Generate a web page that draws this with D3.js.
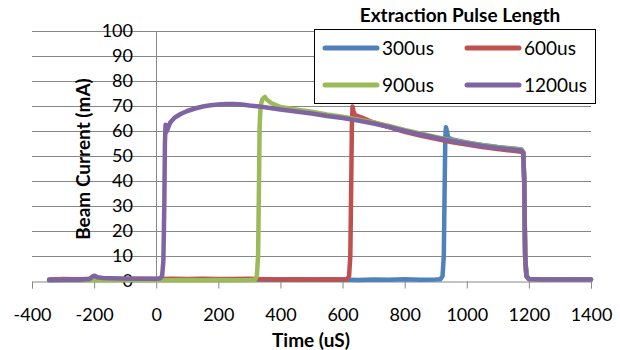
<!DOCTYPE html>
<html><head><meta charset="utf-8">
<script src="https://cdn.jsdelivr.net/npm/d3@7"></script>
<style>
html,body{margin:0;padding:0;background:#fff;}
svg{display:block;font-family:Lato,"Open Sans",sans-serif;}
</style></head>
<body>
<svg id="chart" width="620" height="350"></svg>
<script>
const xTicks = [-400,-200,0,200,400,600,800,1000,1200,1400];
const yTicks = [0,10,20,30,40,50,60,70,80,90,100];
const seriesNames = ["300us","600us","900us","1200us"];
const seriesColors = ["#4F81BD","#C0504D","#9BBB59","#8064A2"];
const legendTitle = "Extraction Pulse Length";
const xTitle = "Time (uS)";
const yTitle = "Beam Current (mA)";

// [time (uS), current (mA)]
const s300 = [[-345,0.3],[-300,0.5],[-250,0.4],[-200,0.6],[-150,0.5],[-100,0.6],[-50,0.5],[0,0.6],[50,0.5],[100,0.6],[150,0.5],[200,0.6],[250,0.5],[300,0.6],[350,0.5],[400,0.6],[450,0.5],[500,0.6],[550,0.5],[600,0.6],[650,0.4],[700,0.6],[750,0.5],[800,0.7],[850,0.5],[900,0.6],[915,0.7],[922,2],[926,10],[929,40],[931,58],[933,61.5],[936,60],[940,57.3],[960,56.4],[1000,55.4],[1050,54.4],[1100,53.6],[1150,53],[1176,52.6],[1182,51.6],[1185,40],[1188,10],[1192,2],[1200,0.8],[1250,0.6],[1300,0.6],[1350,0.6],[1400,0.6]];
const s600 = [[-345,0.6],[-300,0.8],[-250,0.7],[-200,0.9],[-150,0.8],[-100,0.8],[-50,0.9],[0,0.8],[50,0.9],[100,0.8],[150,0.9],[200,0.8],[250,0.8],[300,0.9],[350,0.7],[400,0.6],[450,0.7],[500,0.6],[550,0.7],[600,0.6],[615,0.7],[621,2],[625,10],[628,40],[630,62],[632,69.8],[635,68],[640,66.4],[660,65.5],[700,63.4],[750,61.6],[800,59.7],[850,58.2],[900,56.9],[950,55.6],[1000,54.6],[1050,53.6],[1100,52.8],[1150,52.1],[1176,51.7],[1182,51],[1185,40],[1188,10],[1192,2],[1200,0.8],[1250,0.7],[1300,0.6],[1350,0.7],[1400,0.6]];
const s900 = [[-345,0.3],[-300,0.4],[-250,0.3],[-200,0.4],[-150,0.3],[-100,0.4],[-50,0.3],[0,0.4],[50,0.3],[100,0.4],[150,0.3],[200,0.4],[250,0.3],[300,0.4],[318,0.5],[324,2],[328,10],[331,40],[333,62],[336,70],[342,72.8],[350,73.6],[356,72.6],[370,71.2],[400,69.6],[450,68.6],[500,67.7],[550,66.6],[600,65.7],[650,64.6],[700,63.4],[750,62],[800,60.4],[850,59],[900,57.6],[950,56.3],[1000,55.3],[1050,54.3],[1100,53.5],[1150,52.9],[1176,52.5],[1182,51.5],[1185,40],[1188,10],[1192,2],[1200,0.8],[1250,0.6],[1300,0.5],[1350,0.6],[1400,0.5]];
const s1200 = [[-345,0.4],[-300,0.5],[-250,0.5],[-215,0.8],[-205,1.8],[-198,2.1],[-190,1.5],[-170,1.2],[-120,1.0],[-60,0.9],[0,0.9],[12,1.0],[19,2],[23,8],[26,30],[28,55],[30,62.5],[32,59.5],[36,60.5],[45,63.4],[60,65.4],[80,66.9],[100,68],[125,69],[150,69.8],[175,70.3],[200,70.6],[225,70.8],[250,70.8],[275,70.6],[300,70.2],[325,69.9],[350,69.5],[400,68.6],[450,67.8],[500,67],[550,66],[600,65.2],[650,64.2],[700,63],[750,61.6],[800,60],[850,58.6],[900,57.3],[950,56],[1000,55],[1050,54],[1100,53.2],[1150,52.6],[1176,52.2],[1182,51.2],[1185,40],[1188,10],[1192,2],[1200,0.8],[1250,0.6],[1300,0.6],[1350,0.6],[1400,0.6]];
const allSeries = [s300, s600, s900, s1200];

const svg = d3.select("#chart");
const x = d3.scaleLinear().domain([-400,1400]).range([32,591]);
const y = d3.scaleLinear().domain([0,100]).range([281,31]);
const grid = "#878787";

// horizontal gridlines
svg.append("g").selectAll("line").data(yTicks.slice(1)).join("line")
  .attr("x1", x(-400)).attr("x2", x(1400))
  .attr("y1", d => Math.round(y(d))+0.5).attr("y2", d => Math.round(y(d))+0.5)
  .attr("stroke", grid).attr("stroke-width", 1);

// vertical axis at x=0
svg.append("line").attr("x1", Math.round(x(0))+0.5).attr("x2", Math.round(x(0))+0.5)
  .attr("y1", y(100)).attr("y2", y(0)).attr("stroke", grid);

// x axis
const xAxis = d3.axisBottom(x).tickValues(xTicks).tickSize(7).tickPadding(20).tickFormat(d => String(d));
const gx = svg.append("g").attr("transform", `translate(0,${Math.round(y(0))+0.5})`).call(xAxis);
gx.select(".domain").attr("stroke", grid);
gx.selectAll(".tick line").attr("stroke", grid);
gx.selectAll(".tick text").attr("font-size", 18).attr("fill", "#000").attr("font-family", "Lato, 'Open Sans', sans-serif");

// y tick labels
svg.append("g").selectAll("text").data(yTicks).join("text")
  .attr("x", 133).attr("y", d => y(d)).attr("dy", "0.36em")
  .attr("text-anchor", "end").attr("font-size", 18).attr("fill", "#000")
  .text(d => d);

// series
const line = d3.line().x(d => x(d[0])).y(d => y(d[1]));
svg.append("g").selectAll("path").data(allSeries).join("path")
  .attr("d", line).attr("fill", "none")
  .attr("stroke", (d,i) => seriesColors[i]).attr("stroke-width", 4.5)
  .attr("stroke-linejoin", "round").attr("stroke-linecap", "round");

// axis titles
svg.append("text").attr("x", 311).attr("y", 347).attr("text-anchor", "middle")
  .attr("font-size", 19).attr("font-weight", "bold").text(xTitle);
svg.append("text").attr("transform", "translate(90,159) rotate(-90)").attr("text-anchor", "middle")
  .attr("font-size", 19).attr("font-weight", "bold").text(yTitle);

// legend
svg.append("text").attr("x", 460).attr("y", 22).attr("text-anchor", "middle")
  .attr("font-size", 19).attr("font-weight", "bold").text(legendTitle);
svg.append("rect").attr("x", 314.5).attr("y", 29.5).attr("width", 281).attr("height", 74)
  .attr("fill", "#fff").attr("stroke", "#000").attr("stroke-width", 1);
const lg = svg.append("g").selectAll("g").data(seriesNames).join("g")
  .attr("transform", (d,i) => `translate(${i%2===0 ? 323 : 465},${i<2 ? 48 : 85})`);
lg.append("line").attr("x1", 2).attr("x2", 54).attr("stroke", (d,i) => seriesColors[i])
  .attr("stroke-width", 5).attr("stroke-linecap", "round");
lg.append("text").attr("x", 59).attr("dy", "0.36em").attr("font-size", 19).text(d => d);
</script>
</body></html>
